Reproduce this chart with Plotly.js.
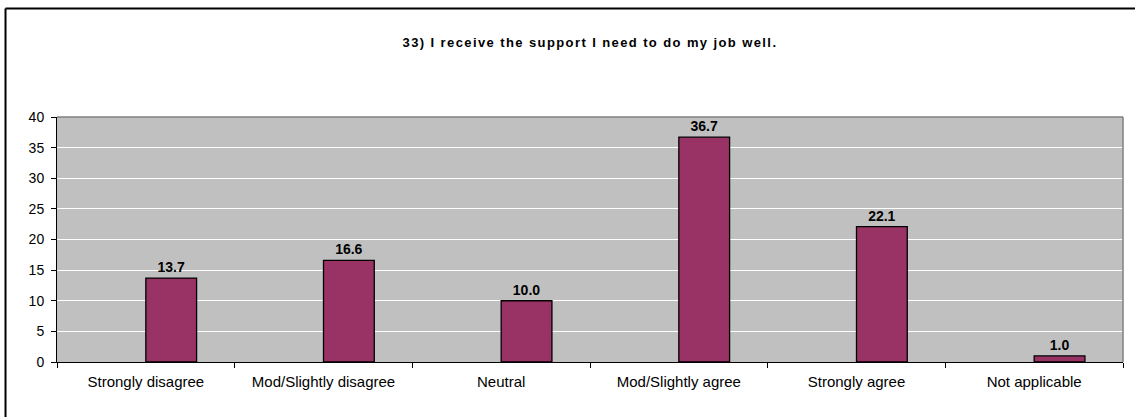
<!DOCTYPE html>
<html>
<head>
<meta charset="utf-8">
<script src="https://cdn.plot.ly/plotly-3.0.1.min.js"></script>
<style>
html,body{margin:0;padding:0;background:#fff;}
#chart{width:1135px;height:417px;}
#chart .gtitle{letter-spacing:1.4px;}
</style>
</head>
<body>
<div id="chart"></div>
<script>
const titleText = "33) I receive the support I need to do my job well.";
const categories = ["Strongly disagree", "Mod/Slightly disagree", "Neutral", "Mod/Slightly agree", "Strongly agree", "Not applicable"];
const values = [13.7, 16.6, 10.0, 36.7, 22.1, 1.0];
const yTicks = [0, 5, 10, 15, 20, 25, 30, 35, 40];

const FONT = "'Liberation Sans', Arial, sans-serif";

const trace = {
  type: "bar",
  x: categories,
  y: values,
  width: 0.2857,
  offset: 0,
  marker: { color: "#993366", line: { color: "#000000", width: 1.3 } },
  text: values.map(v => v.toFixed(1)),
  textposition: "outside",
  textfont: { family: FONT, size: 14, color: "#000", weight: "bold" },
  cliponaxis: false,
  hoverinfo: "none"
};

const layout = {
  width: 1135,
  height: 417,
  margin: { l: 57, r: 12, t: 117, b: 55 },
  paper_bgcolor: "#ffffff",
  plot_bgcolor: "#c0c0c0",
  showlegend: false,
  bargap: 0,
  title: {
    text: titleText,
    font: { family: FONT, size: 13, color: "#000", weight: "bold" },
    x: 0.5, xref: "paper", xanchor: "center",
    y: 1 - 42 / 417, yref: "container", yanchor: "middle"
  },
  xaxis: {
    type: "category",
    tickson: "boundaries",
    ticks: "outside",
    ticklen: 5,
    tickcolor: "#000",
    showline: true,
    linecolor: "#000",
    linewidth: 1,
    showgrid: false,
    ticklabelstandoff: 6,
    tickfont: { family: FONT, size: 15, color: "#000" },
    fixedrange: true
  },
  yaxis: {
    range: [0, 40],
    tickvals: yTicks,
    ticktext: yTicks.map(String),
    ticks: "outside",
    ticklen: 5,
    tickcolor: "#000",
    showline: true,
    linecolor: "#000",
    linewidth: 1,
    showgrid: true,
    gridcolor: "#ffffff",
    gridwidth: 1,
    zeroline: false,
    ticklabelstandoff: 4,
    tickfont: { family: FONT, size: 14, color: "#000" },
    fixedrange: true
  },
  shapes: [
    { type: "line", xref: "paper", yref: "paper", x0: 0, x1: 1, y0: 1, y1: 1, line: { color: "#808080", width: 1.5 } },
    { type: "line", xref: "paper", yref: "paper", x0: 1, x1: 1, y0: 0, y1: 1, line: { color: "#808080", width: 1.5 } },
    { type: "line", xref: "paper", yref: "paper", x0: -0.0483, x1: -0.0483, y0: -0.3, y1: 1.4429, line: { color: "#000", width: 2 } },
    { type: "line", xref: "paper", yref: "paper", x0: -0.0483, x1: 1.05, y0: 1.4429, y1: 1.4429, line: { color: "#000", width: 2 } }
  ]
};

Plotly.newPlot("chart", [trace], layout, { displayModeBar: false, staticPlot: true });
</script>
</body>
</html>
